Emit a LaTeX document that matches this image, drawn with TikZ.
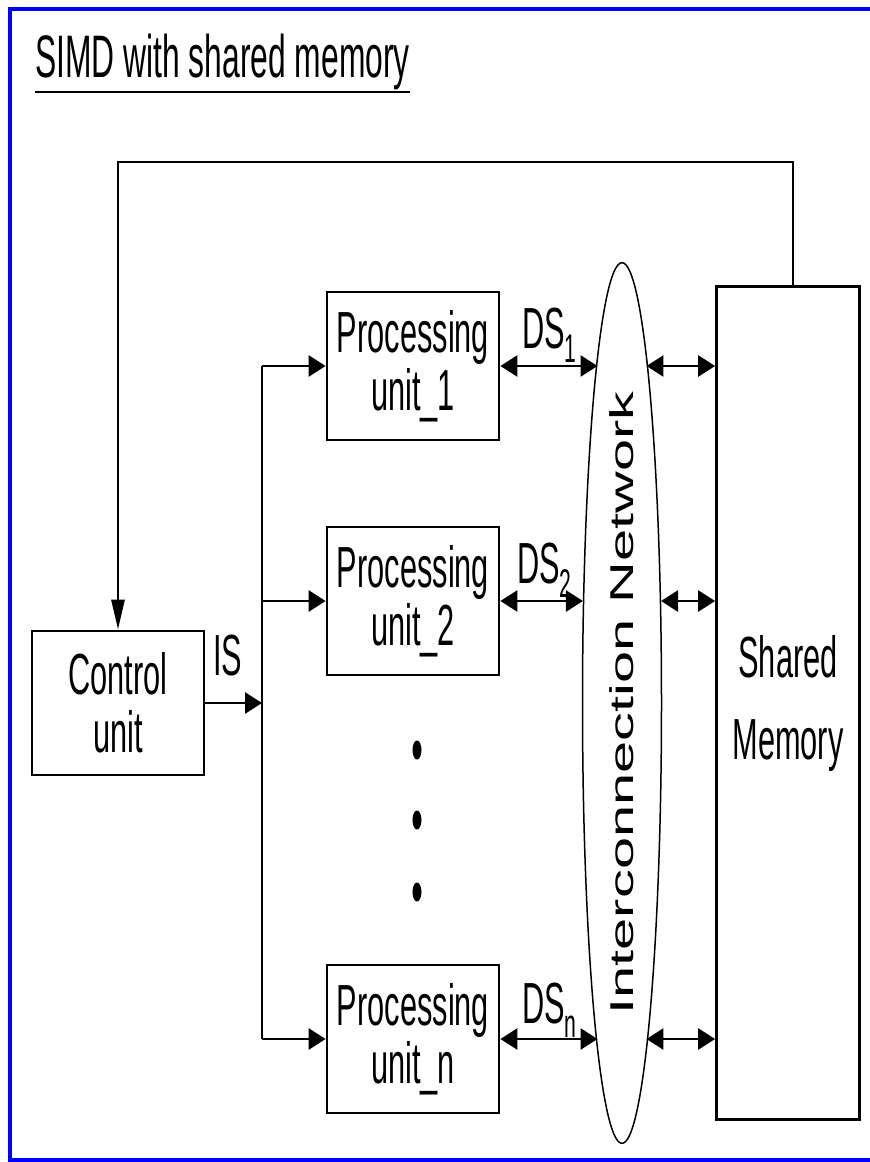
\documentclass[tikz,border=0pt]{standalone}
\usepackage{fontspec}
\setmainfont{Liberation Sans}[FakeStretch=0.53]
\newfontfamily\netfont{Liberation Sans}[FakeStretch=1.75]
\usepackage{graphicx}
\usepackage{xcolor}
\usetikzlibrary{shapes,arrows.meta,positioning,calc}
\definecolor{frameblue}{RGB}{0,0,255}
\newcommand{\dssub}[1]{\raisebox{-14pt}{\fontsize{40}{40}\selectfont #1}}

\begin{document}
\begin{tikzpicture}[x=1pt, y=-1pt,
    box/.style={rectangle, draw=black, line width=2.8pt, inner sep=0pt,
                align=center, font=\fontsize{58}{58}\selectfont},
    pu/.style={box, minimum width=172pt, minimum height=148pt},
    arr/.style={-{Triangle[length=17pt, width=21pt]}, line width=2.8pt},
    darr/.style={{Triangle[length=17pt, width=21pt]}-{Triangle[length=17pt, width=21pt]}, line width=2.8pt},
    lbl/.style={inner sep=0pt, font=\fontsize{58}{58}\selectfont}
]
\useasboundingbox (0,0) rectangle (870,1162);
% blue frame
\draw[frameblue, line width=4.5pt] (870,9) -- (10,9) -- (10,1160) -- (870,1160);

\node[lbl, anchor=base west, font=\fontsize{60}{60}\selectfont] (title) at (35,77) {SIMD with shared memory};
\draw[line width=2.8pt] ([yshift=-15pt]title.base west) -- ([yshift=-15pt]title.base east);

\node[box, minimum width=172pt, minimum height=144pt] (cu)  at (118,703)  {Control\\unit};
\node[pu]                                            (pu1) at (413,366)  {Processing\\unit\_1};
\node[pu]                                            (pu2) at (413,601)  {Processing\\unit\_2};
\node[pu]                                            (pun) at (413,1039) {Processing\\unit\_n};
\node[box, minimum width=143pt, minimum height=833pt] (sm) at (788,703)  {Shared\\[24pt]Memory};
\node[ellipse, draw, line width=1.5pt, inner sep=0pt, minimum width=79pt, minimum height=877pt]
     (net) at (622,703) {\rotatebox{90}{\netfont\fontsize{33}{33}\selectfont Interconnection Network}};

% instruction stream
\coordinate (bus) at (262,699);
\draw[line width=2.8pt] (bus |- pu1.west) -- (bus |- pun.west);
\draw[arr] (cu.east) -- (cu.east -| bus);
\node[lbl, anchor=base west] (is) at (213,675) {IS};
\foreach \p in {pu1,pu2,pun}
    \draw[arr] (bus |- \p.west) -- (\p.west);

% data streams
\draw[darr] (pu1.east) -- (pu1.east -| net.94);
\draw[darr] (pu2.east) -- (pu2.east -| net.110);
\draw[darr] (pun.east) -- (pun.east -| net.266);
\draw[darr] (pu1.east -| net.86)  -- (pu1.east -| sm.west);
\draw[darr] (pu2.east -| net.70)  -- (pu2.east -| sm.west);
\draw[darr] (pun.east -| net.274) -- (pun.east -| sm.west);
\node[lbl, anchor=base west] (ds1) at (522,348)  {DS\dssub{1}};
\node[lbl, anchor=base west] (ds2) at (517,583)  {DS\dssub{2}};
\node[lbl, anchor=base west] (dsn) at (522,1023) {DS\dssub{n}};

% feedback to control unit
\coordinate (fb) at (793,162);
\draw[line width=2.8pt, -{Triangle[length=30pt, width=13pt]}] (fb |- sm.north) -- (fb) -| (cu.north);

\foreach \y in {750,820,892}
    \fill (417,\y) ellipse [x radius=4.5pt, y radius=9.5pt];
\end{tikzpicture}
\end{document}
